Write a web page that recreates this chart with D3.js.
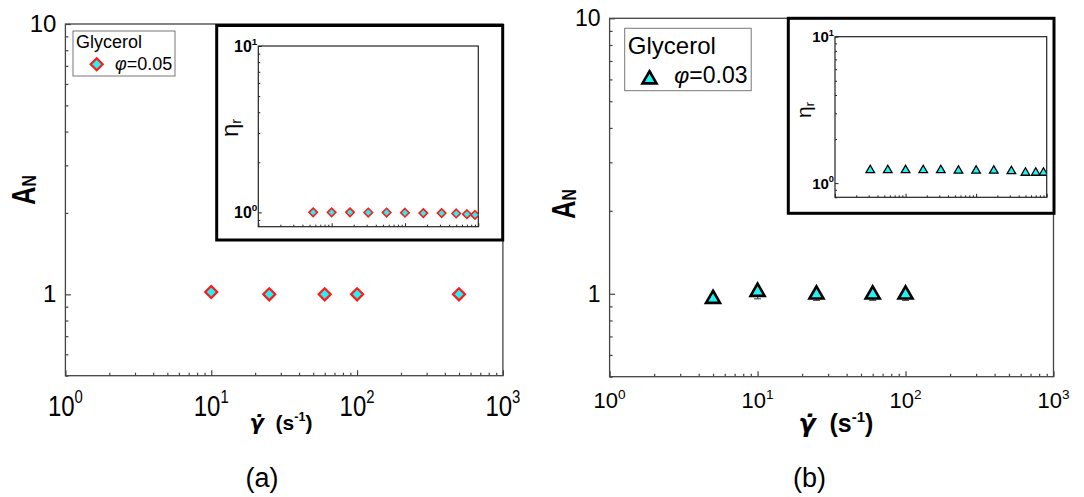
<!DOCTYPE html>
<html>
<head>
<meta charset="utf-8">
<script src="https://cdn.jsdelivr.net/npm/d3@7"></script>
<style>
  body { margin: 0; background: #fff; }
  svg { display: block; }
  text { font-family: "Liberation Sans", Arial, sans-serif; fill: #000; }
</style>
</head>
<body>
<div id="chart"></div>
<script>
// panel (a): glycerol, phi = 0.05
const rateA = [10, 25, 60, 100, 500];
const anA = [1.02, 1.0, 1.0, 1.0, 1.0];
const insetRateA = [5.6, 10, 17.8, 31.6, 56.2, 100, 178, 316, 500, 700, 900];
const insetEtaA = [1.0, 1.0, 1.0, 0.998, 0.998, 0.995, 0.99, 0.99, 0.985, 0.975, 0.965];

// panel (b): glycerol, phi = 0.03
const rateB = [5, 10, 25, 60, 100];
const anB = [0.975, 1.034, 1.011, 1.011, 1.011];
const anErrB = [0.02, 0.075, 0.065, 0.065, 0.065];   // lower error only
const insetRateB = [3.16, 5.6, 10, 17.8, 31.6, 56.2, 100, 178, 316, 500, 700, 900];
const insetEtaB = [1.25, 1.25, 1.25, 1.25, 1.25, 1.24, 1.24, 1.24, 1.23, 1.2, 1.2, 1.2];

const xTickVals = [1, 10, 100, 1000];
const yTickVals = [1, 10];
const insetYTickVals = [1, 10];

const CYAN = "#22f2f2";

// custom symbols (size = area)
const diamondType = {
  draw(ctx, size) {
    const r = Math.sqrt(size / 2);
    ctx.moveTo(0, -r); ctx.lineTo(r, 0); ctx.lineTo(0, r); ctx.lineTo(-r, 0); ctx.closePath();
  }
};
const triangleType = {   // centred on its bounding box, like Origin does
  draw(ctx, size) {
    const a = Math.sqrt(size * 4 / Math.sqrt(3));
    const h = a * Math.sqrt(3) / 2;
    ctx.moveTo(0, -h / 2); ctx.lineTo(a / 2, h / 2); ctx.lineTo(-a / 2, h / 2); ctx.closePath();
  }
};

const svg = d3.select("#chart").append("svg")
  .attr("width", 1084).attr("height", 497);
svg.append("rect").attr("width", 1084).attr("height", 497).attr("fill", "#fff");

function minorOf(scale, majors) {
  return scale.ticks().filter(v => !majors.some(m => Math.abs(m - v) < 1e-9));
}

function tickAxis(g, axisFn, scale, vals, len, color, w) {
  g.call(axisFn(scale).tickValues(vals).tickSize(-len).tickSizeOuter(0).tickFormat(""));
  g.select(".domain").remove();
  g.selectAll("line").attr("stroke", color).attr("stroke-width", w);
}

function powText(parent, x, y, exp, fs, opts) {
  const t = parent.append("text")
    .attr("transform", `translate(${x},${y}) scale(${opts.sx || 1},1)`)
    .attr("text-anchor", opts.anchor || "middle")
    .style("font-size", fs + "px")
    .style("font-weight", opts.bold ? "bold" : "normal");
  t.append("tspan").text("10");
  t.append("tspan").attr("dy", -0.42 * fs).style("font-size", (0.62 * fs) + "px").text(exp);
  return t;
}

function drawPanel(c) {
  const g = svg.append("g");
  const x = d3.scaleLog().domain([1, 1000]).range([c.px0, c.px1]);
  const y = d3.scaleLog().domain([0.5, 10]).range([c.py1, c.py0]);

  // ticks (inward)
  tickAxis(g.append("g").attr("transform", `translate(0,${c.py1})`), d3.axisBottom, x, xTickVals, 5.5, "#444", 1.2);
  tickAxis(g.append("g").attr("transform", `translate(0,${c.py1})`), d3.axisBottom, x, minorOf(x, xTickVals), 3, "#444", 1.2);
  tickAxis(g.append("g").attr("transform", `translate(${c.px0},0)`), d3.axisLeft, y, yTickVals, 5.5, "#444", 1.2);
  tickAxis(g.append("g").attr("transform", `translate(${c.px0},0)`), d3.axisLeft, y, minorOf(y, yTickVals), 3, "#444", 1.2);

  g.append("rect")
    .attr("x", c.px0).attr("y", c.py0)
    .attr("width", c.px1 - c.px0).attr("height", c.py1 - c.py0)
    .attr("fill", "none").attr("stroke", "#444").attr("stroke-width", 1.3);

  // tick labels
  xTickVals.forEach(v => powText(g, x(v), c.xLabY, Math.round(Math.log10(v)), c.xLabFs, { sx: c.xLabSx }));
  yTickVals.forEach(v => {
    g.append("text")
      .attr("x", c.px0 - 9).attr("y", y(v) + c.yLabFs * 0.34)
      .attr("text-anchor", "end")
      .style("font-size", c.yLabFs + "px")
      .text(v);
  });

  // axis titles
  const an = g.append("text")
    .attr("transform", `translate(${c.anX},${c.anY}) rotate(-90) scale(0.75,1)`)
    .attr("text-anchor", "middle")
    .style("font-size", "34px").style("font-weight", "bold");
  an.append("tspan").text("A");
  an.append("tspan").attr("dy", 1).style("font-size", "21px").text("N");

  const fs = c.xTitleFs;
  const xt = g.append("text")
    .attr("x", c.xTitleX).attr("y", c.xTitleY)
    .attr("text-anchor", "middle")
    .style("font-size", fs + "px").style("font-weight", "bold");
  xt.append("tspan")
    .style("font-family", "'DejaVu Sans', sans-serif")
    .style("font-style", "italic")
    .text("\u03B3\u0307");
  xt.append("tspan").text("\u00A0\u00A0(s");
  xt.append("tspan").attr("dy", -0.42 * fs).style("font-size", (0.6 * fs) + "px").text("-1");
  xt.append("tspan").attr("dy", 0.42 * fs).text(")");

  g.append("text")
    .attr("x", c.letterX).attr("y", 487)
    .attr("text-anchor", "middle")
    .style("font-size", "27px")
    .text(c.letter);

  // error bars (lower only)
  if (c.errLow) {
    const eb = g.append("g").attr("stroke", "#555").attr("stroke-width", 1.2);
    c.rate.forEach((r, i) => {
      const lo = y(c.an[i] - c.errLow[i]);
      eb.append("line").attr("x1", x(r)).attr("x2", x(r)).attr("y1", y(c.an[i])).attr("y2", lo);
      eb.append("line").attr("x1", x(r) - 3.5).attr("x2", x(r) + 3.5).attr("y1", lo).attr("y2", lo);
    });
  }

  // main markers
  g.selectAll(null)
    .data(c.rate.map((r, i) => [r, c.an[i]]))
    .join("path")
    .attr("transform", d => `translate(${x(d[0])},${y(d[1])})`)
    .attr("d", d3.symbol().type(c.symType).size(c.symSize))
    .attr("fill", CYAN).attr("stroke", c.symStroke).attr("stroke-width", c.symStrokeW)
    .attr("stroke-linejoin", "miter");

  // legend
  const L = c.legend;
  g.append("rect")
    .attr("x", L.x0).attr("y", L.y0).attr("width", L.x1 - L.x0).attr("height", L.y1 - L.y0)
    .attr("fill", "#fff").attr("stroke", "#777").attr("stroke-width", 1);
  g.append("text").attr("x", L.tx).attr("y", L.ty1).style("font-size", L.fs1 + "px").text("Glycerol");
  g.append("path")
    .attr("transform", `translate(${L.mx},${L.my})`)
    .attr("d", d3.symbol().type(c.symType).size(c.symSize))
    .attr("fill", CYAN).attr("stroke", c.symStroke).attr("stroke-width", c.symStrokeW);
  const lt = g.append("text").attr("x", L.px).attr("y", L.ty2).style("font-size", L.fs2 + "px");
  lt.append("tspan").style("font-style", "italic").text("\u03C6");
  lt.append("tspan").text("=" + c.phi);

  // inset
  const I = c.inset;
  g.append("rect")
    .attr("x", I.bx0).attr("y", I.by0).attr("width", I.bx1 - I.bx0).attr("height", I.by1 - I.by0)
    .attr("fill", "#fff").attr("stroke", "#000").attr("stroke-width", 3);

  const ix = d3.scaleLog().domain([1, 1000]).range([I.x0, I.x1]);
  const iy = d3.scaleLog().domain([I.yMin, 10]).range([I.y1, I.y0]);

  tickAxis(g.append("g").attr("transform", `translate(0,${I.y1})`), d3.axisBottom, ix, xTickVals, 3.5, "#222", 1);
  tickAxis(g.append("g").attr("transform", `translate(0,${I.y1})`), d3.axisBottom, ix, minorOf(ix, xTickVals), 2, "#222", 1);
  tickAxis(g.append("g").attr("transform", `translate(${I.x0},0)`), d3.axisLeft, iy, insetYTickVals, 3.5, "#222", 1);
  tickAxis(g.append("g").attr("transform", `translate(${I.x0},0)`), d3.axisLeft, iy, minorOf(iy, insetYTickVals), 2, "#222", 1);

  g.append("rect")
    .attr("x", I.x0).attr("y", I.y0).attr("width", I.x1 - I.x0).attr("height", I.y1 - I.y0)
    .attr("fill", "none").attr("stroke", "#222").attr("stroke-width", 1.2);

  insetYTickVals.forEach(v => powText(g, I.x0 - 1, iy(v) + I.labFs * 0.36, Math.round(Math.log10(v)), I.labFs, { anchor: "end", bold: true }));

  const et = g.append("text")
    .attr("transform", `translate(${I.etaX},${I.etaY}) rotate(-90)`)
    .attr("text-anchor", "middle")
    .style("font-size", I.etaFs + "px");
  et.append("tspan").text("\u03B7");
  et.append("tspan").attr("dy", 3).style("font-size", (I.etaFs * 0.6) + "px").text("r");

  const clipId = "clip" + c.letter.replace(/\W/g, "");
  g.append("clipPath").attr("id", clipId).append("rect")
    .attr("x", I.x0).attr("y", I.y0).attr("width", I.x1 - I.x0).attr("height", I.y1 - I.y0);

  g.append("g").attr("clip-path", `url(#${clipId})`)
    .selectAll(null)
    .data(c.insetRate.map((r, i) => [r, c.insetEta[i]]))
    .join("path")
    .attr("transform", d => `translate(${ix(d[0])},${iy(d[1])})`)
    .attr("d", d3.symbol().type(c.symType).size(I.symSize))
    .attr("fill", CYAN).attr("stroke", c.symStroke).attr("stroke-width", I.symStrokeW);
}

drawPanel({
  letter: "(a)", letterX: 262,
  px0: 65.4, px1: 502.9, py0: 24, py1: 375.7,
  xLabY: 415.7, xLabFs: 30, xLabSx: 0.8, yLabFs: 24,
  anX: 35, anY: 190,
  xTitleX: 281, xTitleY: 430, xTitleFs: 21,
  rate: rateA, an: anA,
  symType: diamondType, symSize: 72, symStroke: "#ff1a1a", symStrokeW: 2.2,
  phi: "0.05",
  legend: { x0: 73, y0: 31, x1: 175, y1: 76, tx: 76, ty1: 47.7, fs1: 18,
            mx: 96.7, my: 64.3, px: 115, ty2: 70, fs2: 18 },
  insetRate: insetRateA, insetEta: insetEtaA,
  inset: { bx0: 216.7, bx1: 502.7, by0: 25.5, by1: 240,
           x0: 258.3, x1: 478.3, y0: 46, y1: 226.7, yMin: 0.82,
           labFs: 16, etaX: 238, etaY: 128, etaFs: 24,
           symSize: 36, symStrokeW: 1.6 }
});

drawPanel({
  letter: "(b)", letterX: 809.5,
  px0: 609.6, px1: 1053.5, py0: 18.3, py1: 376.7,
  xLabY: 408.3, xLabFs: 22, xLabSx: 1, yLabFs: 23,
  anX: 575, anY: 204,
  xTitleX: 836, xTitleY: 432, xTitleFs: 25,
  rate: rateB, an: anB, errLow: anErrB,
  symType: triangleType, symSize: 85, symStroke: "#000", symStrokeW: 2.6,
  phi: "0.03",
  legend: { x0: 624.7, y0: 28.3, x1: 751.2, y1: 90.7, tx: 627.8, ty1: 54.3, fs1: 24,
            mx: 649.5, my: 77.3, px: 674.3, ty2: 83.3, fs2: 23 },
  insetRate: insetRateB, insetEta: insetEtaB,
  inset: { bx0: 788.3, bx1: 1054, by0: 18.3, by1: 213.3,
           x0: 835, x1: 1046.7, y0: 36.7, y1: 197.3, yMin: 0.8,
           labFs: 15, etaX: 811, etaY: 110, etaFs: 21,
           symSize: 32, symStrokeW: 1.3 }
});
</script>
</body>
</html>
